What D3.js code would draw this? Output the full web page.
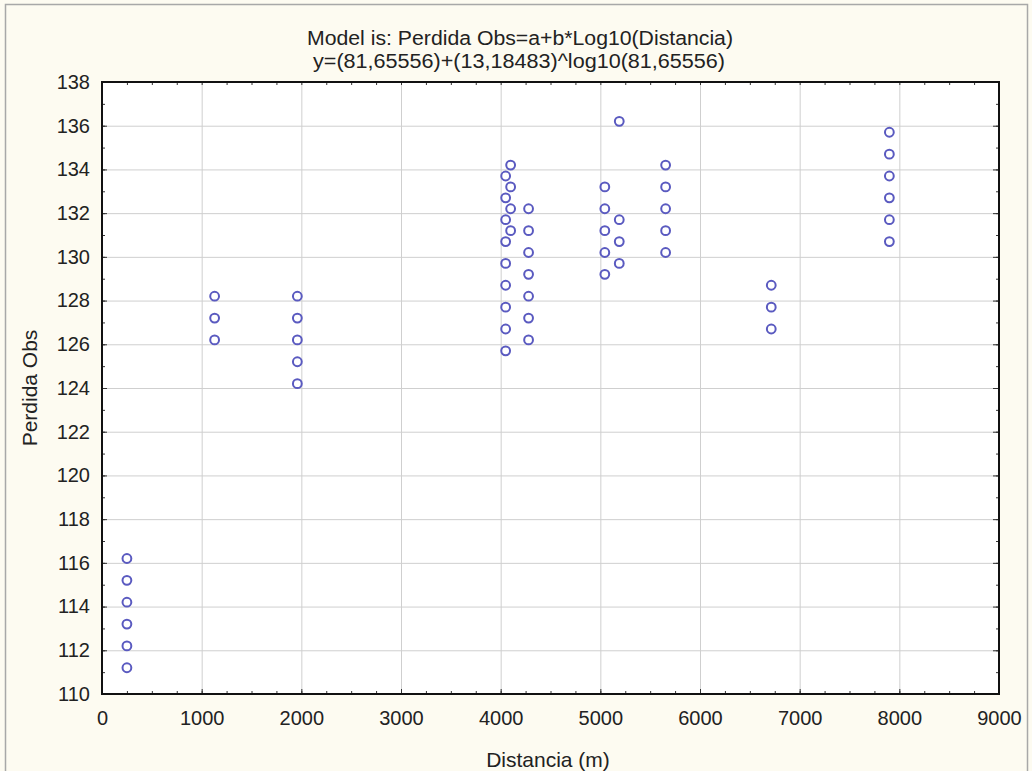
<!DOCTYPE html>
<html>
    <head>
        <meta charset="utf-8">
        <script src="https://cdn.jsdelivr.net/npm/d3@7/dist/d3.min.js" charset="utf-8"></script>
        <style type="text/css">
            body{
                margin: 0px;
                padding: 0;
                background-color: #FDFBF1;
            }
            text{
                font-family: "Liberation Sans", Arial, sans-serif;
                fill: #222;
            }
        </style>
    </head>
    <body>
    <div id="chart"></div>
    </body>
</html>

<script>
    var distancia = [250, 250, 250, 250, 250, 250,
                     1130, 1130, 1130,
                     1960, 1960, 1960, 1960, 1960,
                     4050, 4050, 4050, 4050, 4050, 4050, 4050, 4050, 4050,
                     4100, 4100, 4100, 4100,
                     4280, 4280, 4280, 4280, 4280, 4280, 4280,
                     5045, 5045, 5045, 5045, 5045,
                     5190, 5190, 5190, 5190,
                     5655, 5655, 5655, 5655, 5655,
                     6715, 6715, 6715,
                     7900, 7900, 7900, 7900, 7900, 7900];
    var perdida = [116.2, 115.2, 114.2, 113.2, 112.2, 111.2,
                   128.2, 127.2, 126.2,
                   128.2, 127.2, 126.2, 125.2, 124.2,
                   133.7, 132.7, 131.7, 130.7, 129.7, 128.7, 127.7, 126.7, 125.7,
                   134.2, 133.2, 132.2, 131.2,
                   132.2, 131.2, 130.2, 129.2, 128.2, 127.2, 126.2,
                   133.2, 132.2, 131.2, 130.2, 129.2,
                   136.2, 131.7, 130.7, 129.7,
                   134.2, 133.2, 132.2, 131.2, 130.2,
                   128.7, 127.7, 126.7,
                   135.7, 134.7, 133.7, 132.7, 131.7, 130.7];

    var xTicks = [0, 1000, 2000, 3000, 4000, 5000, 6000, 7000, 8000, 9000];
    var yTicks = [110, 112, 114, 116, 118, 120, 122, 124, 126, 128, 130, 132, 134, 136, 138];
    var xMinor = d3.range(0, 9001, 250);
    var yMinor = d3.range(110, 139, 1);

    var titulo1 = "Model is: Perdida Obs=a+b*Log10(Distancia)";
    var titulo2 = "y=(81,65556)+(13,18483)^log10(81,65556)";

    var width = 1032, height = 771;
    var pLeft = 102, pRight = 999, pTop = 82, pBottom = 694;

    var svg = d3.select("#chart")
        .append("svg")
        .attr("width", width)
        .attr("height", height)
        .style("display", "block");

    // marco exterior
    svg.append("rect")
        .attr("x", 5.5).attr("y", 4.5)
        .attr("width", 1022).attr("height", 780)
        .attr("fill", "#FDFBF1")
        .attr("stroke", "#A8A8A8")
        .attr("stroke-width", 1.5);

    var x = d3.scaleLinear().domain([0, 9000]).range([pLeft, pRight]);
    var y = d3.scaleLinear().domain([110, 138]).range([pBottom, pTop]);

    svg.append("rect")
        .attr("x", pLeft).attr("y", pTop)
        .attr("width", pRight - pLeft).attr("height", pBottom - pTop)
        .attr("fill", "#fff");

    // rejilla
    svg.append("g").selectAll("line").data(xTicks.slice(1, -1)).join("line")
        .attr("x1", function(d) { return x(d) + 0.5; })
        .attr("x2", function(d) { return x(d) + 0.5; })
        .attr("y1", pTop).attr("y2", pBottom)
        .attr("stroke", "#CFCFCF");
    svg.append("g").selectAll("line").data(yTicks.slice(1, -1)).join("line")
        .attr("y1", function(d) { return y(d) + 0.5; })
        .attr("y2", function(d) { return y(d) + 0.5; })
        .attr("x1", pLeft).attr("x2", pRight)
        .attr("stroke", "#CFCFCF");

    // ejes con marcas hacia dentro
    var fmt = d3.format("d");
    svg.append("g")
        .attr("transform", "translate(0," + pBottom + ")")
        .call(d3.axisBottom(x).tickValues(xMinor).tickSize(-3).tickFormat(""))
        .call(function(g) { g.select(".domain").remove(); });
    svg.append("g")
        .attr("transform", "translate(0," + pBottom + ")")
        .call(d3.axisBottom(x).tickValues(xTicks).tickSize(-5).tickPadding(17).tickFormat(fmt))
        .call(function(g) {
            g.select(".domain").remove();
            g.selectAll("text").attr("font-size", "20px").attr("font-family", null);
        });
    svg.append("g")
        .attr("transform", "translate(0," + pTop + ")")
        .call(d3.axisTop(x).tickValues(xMinor).tickSize(-3).tickFormat(""))
        .call(function(g) { g.select(".domain").remove(); });

    svg.append("g")
        .attr("transform", "translate(" + pLeft + ",0)")
        .call(d3.axisLeft(y).tickValues(yMinor).tickSize(-3).tickFormat(""))
        .call(function(g) { g.select(".domain").remove(); });
    svg.append("g")
        .attr("transform", "translate(" + pLeft + ",0)")
        .call(d3.axisLeft(y).tickValues(yTicks).tickSize(-5).tickPadding(12).tickFormat(fmt))
        .call(function(g) {
            g.select(".domain").remove();
            g.selectAll("text").attr("font-size", "20px").attr("font-family", null);
        });
    svg.append("g")
        .attr("transform", "translate(" + pRight + ",0)")
        .call(d3.axisRight(y).tickValues(yMinor).tickSize(-3).tickFormat(""))
        .call(function(g) { g.select(".domain").remove(); });
    svg.append("g")
        .attr("transform", "translate(" + pRight + ",0)")
        .call(d3.axisRight(y).tickValues(yTicks).tickSize(-6).tickFormat(""))
        .call(function(g) { g.select(".domain").remove(); });

    svg.selectAll(".tick line").attr("stroke", "#333");

    svg.append("rect")
        .attr("x", pLeft).attr("y", pTop)
        .attr("width", pRight - pLeft).attr("height", pBottom - pTop)
        .attr("fill", "none")
        .attr("stroke", "#111")
        .attr("stroke-width", 2);

    // puntos
    svg.append("g").selectAll("circle").data(d3.range(distancia.length)).join("circle")
        .attr("cx", function(i) { return x(distancia[i]); })
        .attr("cy", function(i) { return y(perdida[i]); })
        .attr("r", 4.4)
        .attr("fill", "none")
        .attr("stroke", "#5A5AC0")
        .attr("stroke-width", 2);

    // textos
    svg.append("text")
        .attr("x", 520).attr("y", 45)
        .attr("text-anchor", "middle")
        .attr("font-size", "20px")
        .attr("textLength", 426).attr("lengthAdjust", "spacingAndGlyphs")
        .text(titulo1);
    svg.append("text")
        .attr("x", 519).attr("y", 68)
        .attr("text-anchor", "middle")
        .attr("font-size", "20px")
        .attr("textLength", 412).attr("lengthAdjust", "spacingAndGlyphs")
        .text(titulo2);

    svg.append("text")
        .attr("x", 548).attr("y", 767)
        .attr("text-anchor", "middle")
        .attr("font-size", "21px")
        .text("Distancia (m)");

    svg.append("text")
        .attr("transform", "translate(37," + ((pTop + pBottom) / 2) + ") rotate(-90)")
        .attr("text-anchor", "middle")
        .attr("font-size", "21px")
        .text("Perdida Obs");
</script>
